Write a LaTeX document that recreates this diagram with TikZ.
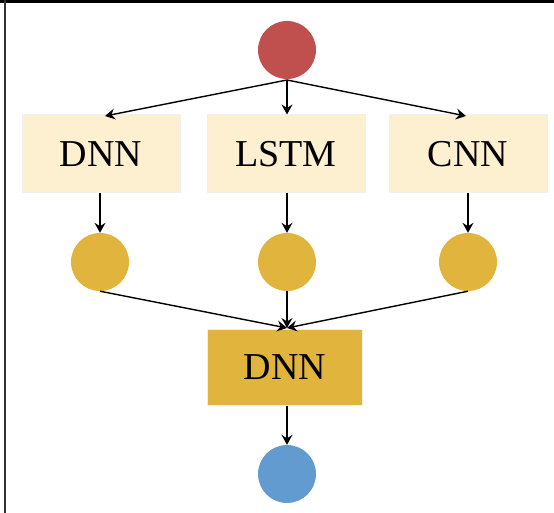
\documentclass[tikz,border=0pt]{standalone}
\usepackage{fontspec}
\setmainfont{Liberation Serif}
\usetikzlibrary{arrows.meta}
\definecolor{redc}{HTML}{C0504D}
\definecolor{goldc}{HTML}{E0B43D}
\definecolor{creamc}{HTML}{FCF0D0}
\definecolor{bluec}{HTML}{619BCF}
\begin{document}
\begin{tikzpicture}[x=1pt,y=-1pt,
  dot/.style={circle,minimum size=58pt,inner sep=0pt},
  lightbox/.style={rectangle,fill=creamc,draw=gray!12,line width=1pt,minimum width=158pt,minimum height=78pt,inner sep=0pt,font=\fontsize{38}{44}\selectfont},
  goldbox/.style={rectangle,fill=goldc,draw=gray!12,line width=1pt,minimum width=155pt,minimum height=76pt,inner sep=0pt,font=\fontsize{38}{44}\selectfont},
  conn/.style={line width=1.4pt,-{Stealth[length=10pt,width=11pt,inset=3.5pt]}}]
\useasboundingbox (0,0) rectangle (554,513);
\draw[line width=2.5pt] (0,1.5) -- (554,1.5);
\draw[line width=1.5pt,black!80] (5,0) -- (5,513);
\node[dot,fill=redc] (top) at (287,50) {};
\node[lightbox] (d1) at (101,154) {DNN};
\node[lightbox] (l1) at (286,154) {LSTM};
\node[lightbox] (c1) at (468,154) {CNN};
\node[dot,fill=goldc] (g1) at (100,262) {};
\node[dot,fill=goldc] (g2) at (287,262) {};
\node[dot,fill=goldc] (g3) at (468,262) {};
\node[goldbox] (d2) at (285,367) {DNN};
\node[dot,fill=bluec] (out) at (287,474) {};
\coordinate (tp) at (287,80);
\coordinate (t1) at (105,116);
\coordinate (t3) at (466,116);
\coordinate (m) at (287,328);
\draw[conn] (tp) -- (t1);
\draw[conn] (tp) -- (l1.north -| tp);
\draw[conn] (tp) -- (t3);
\draw[conn] (d1.south -| g1) -- (g1.north);
\draw[conn] (l1.south -| g2) -- (g2.north);
\draw[conn] (c1.south -| g3) -- (g3.north);
\draw[conn] (g1.south) -- (m);
\draw[conn] (g2.south) -- (m);
\draw[conn] (g3.south) -- (m);
\draw[conn] (d2.south -| out) -- (out.north);
\end{tikzpicture}
\end{document}
